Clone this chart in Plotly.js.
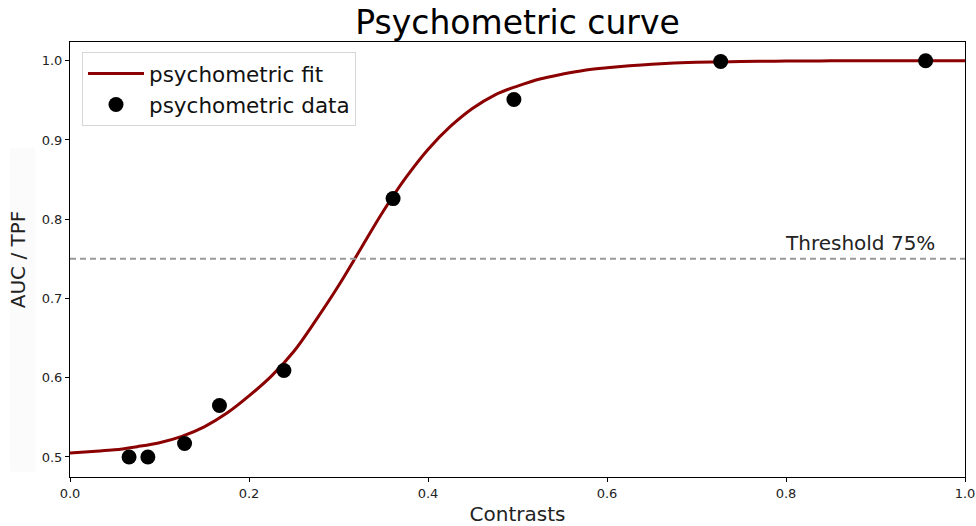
<!DOCTYPE html>
<html>
<head>
<meta charset="utf-8">
<script src="https://cdn.plot.ly/plotly-3.0.1.min.js"></script>
<style>
  html, body { margin: 0; padding: 0; background: #fff; }
  #chart { width: 976px; height: 526px; }
</style>
</head>
<body>
<div id="chart"></div>
<script>
// Measured psychometric data (contrast vs AUC / TPF)
const dataContrast = [0.066, 0.087, 0.128, 0.167, 0.239, 0.361, 0.496, 0.727, 0.956];
const dataScore    = [0.500, 0.500, 0.517, 0.565, 0.609, 0.826, 0.951, 0.999, 1.000];

// Fitted psychometric curve, sampled along the contrast axis
const fitContrast = [0.000, 0.025, 0.050, 0.075, 0.100, 0.125, 0.150, 0.175, 0.200, 0.225,
                     0.250, 0.275, 0.300, 0.325, 0.350, 0.375, 0.400, 0.425, 0.450, 0.475,
                     0.500, 0.525, 0.550, 0.575, 0.600, 0.625, 0.650, 0.675, 0.700, 0.725,
                     0.750, 0.775, 0.800, 0.825, 0.850, 0.875, 0.900, 0.925, 0.950, 0.975, 1.000];
const fitScore    = [0.505, 0.507, 0.509, 0.513, 0.518, 0.526, 0.538, 0.555, 0.577, 0.602,
                     0.633, 0.673, 0.716, 0.763, 0.810, 0.852, 0.888, 0.917, 0.940, 0.957,
                     0.968, 0.977, 0.983, 0.988, 0.991, 0.9935, 0.9955, 0.997, 0.998, 0.9985,
                     0.999, 0.9993, 0.9995, 0.9997, 0.9998, 0.9999, 1.000, 1.000, 1.000, 1.000, 1.000];

// Threshold level
const thresholdLevel = 0.75;
const thresholdLabel = 'Threshold 75%';

const xTicks = [0.0, 0.2, 0.4, 0.6, 0.8, 1.0];
const yTicks = [0.5, 0.6, 0.7, 0.8, 0.9, 1.0];

const font = 'DejaVu Sans, Liberation Sans, sans-serif';

const traces = [
  {
    x: fitContrast, y: fitScore,
    type: 'scatter', mode: 'lines',
    name: 'psychometric fit',
    line: { color: '#8b0000', width: 3, shape: 'spline', smoothing: 1.0 }
  },
  {
    x: dataContrast, y: dataScore,
    type: 'scatter', mode: 'markers',
    name: 'psychometric data',
    marker: { color: '#000000', size: 15 }
  }
];

const layout = {
  width: 976, height: 526,
  margin: { l: 70, r: 11, t: 42, b: 49 },
  paper_bgcolor: '#ffffff', plot_bgcolor: '#ffffff',
  font: { family: font, color: '#222222', size: 12 },
  title: {
    text: 'Psychometric curve',
    font: { family: font, size: 33, color: '#000000' },
    xref: 'paper', x: 0.5, xanchor: 'center', y: 0.958, yanchor: 'middle'
  },
  xaxis: {
    range: [0, 1],
    tickvals: xTicks, tickformat: '.1f',
    showgrid: false, zeroline: false,
    showline: true, linecolor: '#000000', linewidth: 1, mirror: true,
    ticks: 'outside', ticklen: 4, tickcolor: '#000000',
    tickfont: { family: font, size: 13, color: '#222222' },
    title: { text: 'Contrasts', font: { family: font, size: 20, color: '#222222' }, standoff: 7 }
  },
  yaxis: {
    range: [0.4747, 1.0236],
    tickvals: yTicks, tickformat: '.1f',
    showgrid: false, zeroline: false,
    showline: true, linecolor: '#000000', linewidth: 1, mirror: true,
    ticks: 'outside', ticklen: 4, tickcolor: '#000000',
    tickfont: { family: font, size: 13, color: '#222222' },
    title: { text: 'AUC / TPF', font: { family: font, size: 20, color: '#222222' }, standoff: 10 }
  },
  legend: {
    x: 0.0134, y: 0.977, xanchor: 'left', yanchor: 'top',
    bgcolor: '#ffffff', bordercolor: '#d6d6d6', borderwidth: 1,
    font: { family: font, size: 21.5, color: '#111111' },
    itemwidth: 56,
    tracegroupgap: 0
  },
  shapes: [
    {
      type: 'line', xref: 'paper', yref: 'y',
      x0: 0, x1: 1, y0: thresholdLevel, y1: thresholdLevel,
      line: { color: '#999999', width: 2, dash: '6px,4px' }
    },
    {
      type: 'rect', xref: 'paper', yref: 'paper', layer: 'below',
      x0: -0.067, x1: -0.039, y0: 0.012, y1: 0.756,
      fillcolor: '#fbfbfb', line: { width: 0 }
    }
  ],
  annotations: [
    {
      x: 0.969, y: thresholdLevel, xref: 'x', yref: 'y',
      xanchor: 'right', yanchor: 'bottom', yshift: 2,
      text: thresholdLabel, showarrow: false,
      font: { family: font, size: 20, color: '#222222' }
    }
  ]
};

Plotly.newPlot('chart', traces, layout, { displayModeBar: false, staticPlot: true });
</script>
</body>
</html>
